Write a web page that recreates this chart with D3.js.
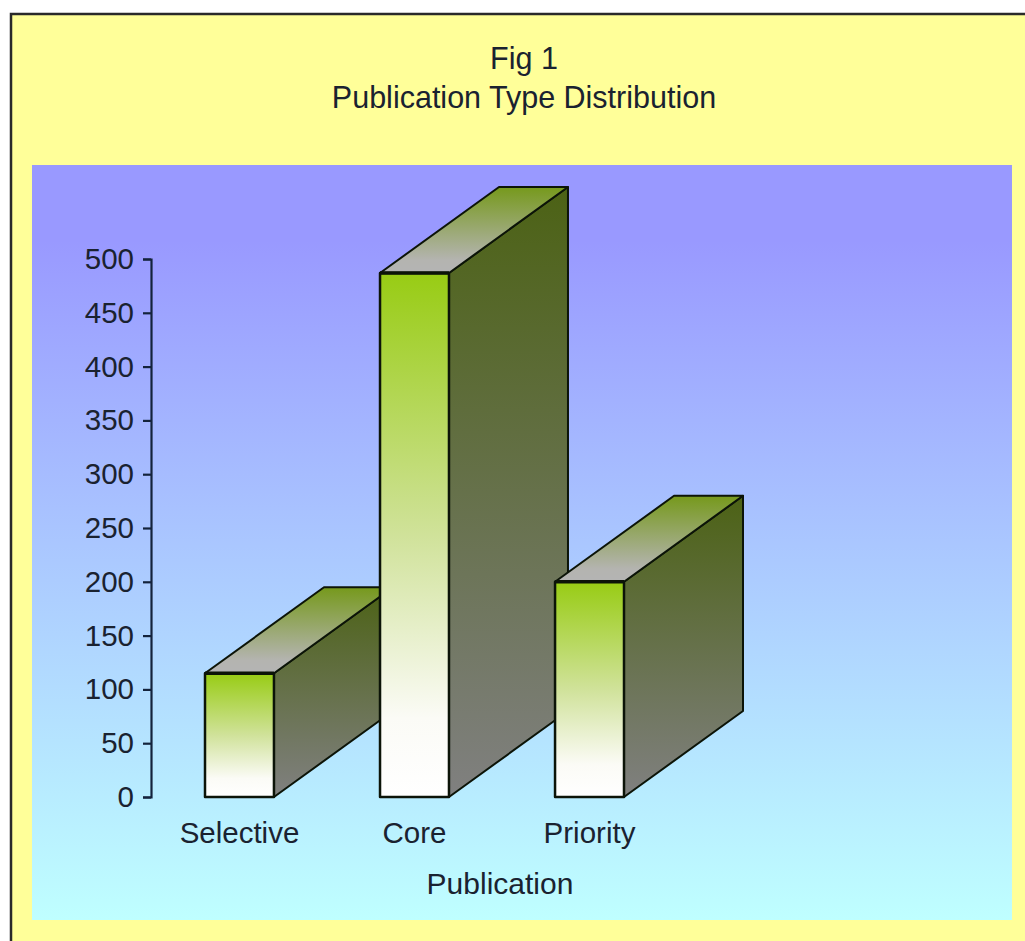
<!DOCTYPE html>
<html>
<head>
<meta charset="utf-8">
<title>Publication Type Distribution</title>
<script src="https://cdn.jsdelivr.net/npm/d3@7/dist/d3.min.js"></script>
<style>
  html, body { margin: 0; padding: 0; background: #fff; overflow: hidden; }
  svg { display: block; }
  text { font-family: "Liberation Sans", Arial, sans-serif; fill: #1a2230; }
</style>
</head>
<body>
<svg id="chart" width="1025" height="941"></svg>
<script>
// Publication counts per type
const categories = ["Selective", "Core", "Priority"];
const counts = [115, 487, 200];
const yTicks = [0, 50, 100, 150, 200, 250, 300, 350, 400, 450, 500];
const titleLines = ["Fig 1", "Publication Type Distribution"];
const xAxisTitle = "Publication";

const svg = d3.select("#chart");
const defs = svg.append("defs");

function verticalGradient(id, stops) {
  const g = defs.append("linearGradient")
    .attr("id", id).attr("x1", 0).attr("y1", 0).attr("x2", 0).attr("y2", 1);
  stops.forEach(([offset, color]) =>
    g.append("stop").attr("offset", offset).attr("stop-color", color));
}

verticalGradient("plotFill", [[0, "#9999ff"], [0.1, "#9999ff"], [1, "#bfffff"]]);
verticalGradient("frontFill", [[0, "#98cc14"], [0.5, "#d0e29a"], [0.85, "#fbfbf6"], [1, "#ffffff"]]);
verticalGradient("sideFill", [[0, "#4c6215"], [1, "#808080"]]);
verticalGradient("topFill", [[0, "#76991c"], [0.85, "#b4b4b0"], [1, "#b4b4b4"]]);

// Outer frame runs off the right and bottom edges of the page
svg.append("rect")
  .attr("x", 11).attr("y", 14).attr("width", 1030).attr("height", 940)
  .attr("fill", "#ffff99").attr("stroke", "#2a2a2a").attr("stroke-width", 2.5);

svg.append("rect")
  .attr("x", 32).attr("y", 165).attr("width", 980).attr("height", 755)
  .attr("fill", "url(#plotFill)");

svg.selectAll("text.title").data(titleLines).join("text")
  .attr("class", "title")
  .attr("x", 524)
  .attr("y", (d, i) => 69 + i * 39)
  .attr("text-anchor", "middle")
  .attr("font-size", 30.5)
  .text(d => d);

const x = d3.scaleBand().domain(categories).range([205, 624]).paddingInner(0.606).paddingOuter(0);
const y = d3.scaleLinear().domain([0, 500]).range([797, 259]);
const depth = { dx: 119, dy: -86 };

// Value axis
const yAxis = d3.axisLeft(y).tickValues(yTicks).tickSize(8).tickPadding(9);
const yAxisG = svg.append("g").attr("transform", "translate(151,0)").call(yAxis);
yAxisG.selectAll("path, line").attr("stroke", "#14233c").attr("stroke-width", 2.2);
yAxisG.selectAll("text").attr("font-size", 29.5).style("font-family", '"Liberation Sans", Arial, sans-serif').attr("fill", "#1a2a4a");

// Bars are extruded boxes, painted left to right so later bars overlap earlier ones
const bars = svg.selectAll("g.bar").data(categories.map((c, i) => ({ c, v: counts[i] }))).join("g").attr("class", "bar");
const edgeColor = "#0c1408";

function face(sel, fill, pts, width) {
  return sel.append("path")
    .attr("d", d => d3.line()(pts(d)) + "Z")
    .attr("fill", fill)
    .attr("stroke", edgeColor)
    .attr("stroke-width", width)
    .attr("stroke-linejoin", "round");
}

const x0 = d => x(d.c);
const x1 = d => x(d.c) + x.bandwidth();

face(bars, "url(#sideFill)", d => [
  [x1(d), y(d.v)], [x1(d) + depth.dx, y(d.v) + depth.dy],
  [x1(d) + depth.dx, y(0) + depth.dy], [x1(d), y(0)]
], 2);
face(bars, "url(#topFill)", d => [
  [x0(d), y(d.v)], [x0(d) + depth.dx, y(d.v) + depth.dy],
  [x1(d) + depth.dx, y(d.v) + depth.dy], [x1(d), y(d.v)]
], 2);
face(bars, "url(#frontFill)", d => [
  [x0(d), y(d.v)], [x1(d), y(d.v)], [x1(d), y(0)], [x0(d), y(0)]
], 2.5);

// Heavier lip along the front top edge of each box
bars.append("line")
  .attr("x1", x0).attr("x2", x1)
  .attr("y1", d => y(d.v)).attr("y2", d => y(d.v))
  .attr("stroke", edgeColor).attr("stroke-width", 3.5);

// Category labels
svg.selectAll("text.cat").data(categories).join("text")
  .attr("class", "cat")
  .attr("x", d => x(d) + x.bandwidth() / 2)
  .attr("y", 843)
  .attr("text-anchor", "middle")
  .attr("font-size", 29.5)
  .text(d => d);

svg.append("text")
  .attr("x", 500).attr("y", 894)
  .attr("text-anchor", "middle")
  .attr("font-size", 30)
  .text(xAxisTitle);
</script>
</body>
</html>
